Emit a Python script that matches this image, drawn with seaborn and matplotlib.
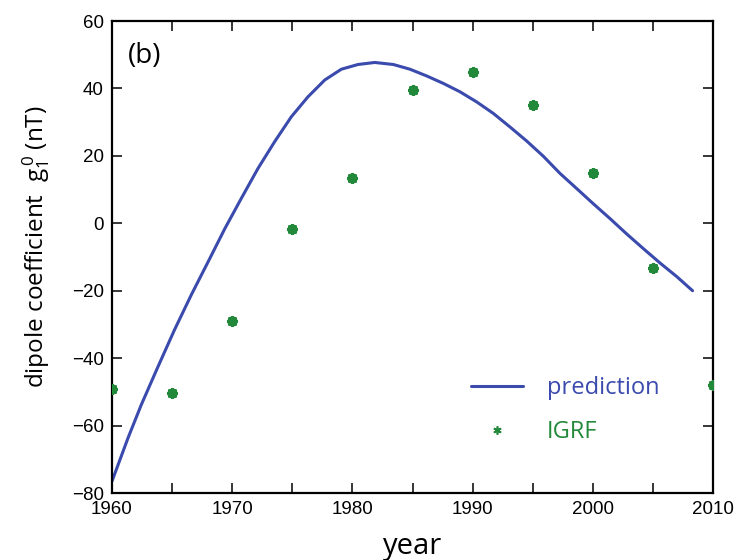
import numpy as np
import pandas as pd
import matplotlib
matplotlib.use("Agg")
import matplotlib.pyplot as plt
import seaborn as sns
from matplotlib.lines import Line2D
from matplotlib.ticker import MultipleLocator

# prediction curve
pred_year = [1960.0, 1961.33, 1962.44, 1963.83, 1965.2, 1966.6, 1968.0, 1969.4,
             1970.76, 1972.15, 1973.53, 1974.92, 1976.3, 1977.7, 1979.08, 1980.47,
             1981.86, 1983.4, 1984.79, 1986.18, 1987.56, 1988.95, 1990.34, 1991.72,
             1993.1, 1994.5, 1995.88, 1997.27, 1998.66, 2000.04, 2001.43, 2002.8,
             2004.2, 2005.6, 2006.98, 2008.3]
pred_value = [-76.5, -63.7, -53.8, -42.5, -31.6, -21.2, -11.4, -1.5,
              7.4, 16.3, 24.2, 31.6, 37.5, 42.5, 45.7, 47.1,
              47.7, 47.1, 45.7, 43.7, 41.5, 39.0, 36.0, 32.6,
              28.6, 24.4, 19.9, 14.8, 10.3, 5.8, 1.4, -3.1,
              -7.5, -11.8, -15.8, -20.0]

# IGRF values
igrf_year = [1960, 1965, 1970, 1975, 1980, 1985, 1990, 1995, 2000, 2005, 2010]
igrf_value = [-49.1, -50.2, -29.0, -1.7, 13.4, 39.6, 44.8, 35.0, 14.8, -13.3, -48.0]

x_ticks = [1960, 1970, 1980, 1990, 2000, 2010]
y_ticks = [-80, -60, -40, -20, 0, 20, 40, 60]

blue = "#3a4aad"
green = "#22893a"

sns.set_theme(style="ticks")
plt.rcParams['font.family'] = ['Liberation Sans', 'DejaVu Sans']
plt.rcParams['mathtext.fontset'] = 'custom'
plt.rcParams['mathtext.rm'] = 'Open Sans'
plt.rcParams['text.color'] = 'black'
plt.rcParams['axes.labelcolor'] = 'black'

fig = plt.figure(figsize=(7.53, 5.60), dpi=100)
ax = fig.add_axes([112/753, 1-493/560, (713-112)/753, (493-21)/560])

pred_df = pd.DataFrame({"year": pred_year, "value": pred_value})
igrf_df = pd.DataFrame({"year": igrf_year, "value": igrf_value})

sns.lineplot(data=pred_df, x="year", y="value", ax=ax, color=blue, linewidth=2.2,
             sort=False, estimator=None)
sns.scatterplot(data=igrf_df, x="year", y="value", ax=ax, color=green,
                marker=(8, 2, 0), s=26, linewidth=3.0, edgecolor=green, zorder=3)

ax.set_xlim(1960, 2010)
ax.set_ylim(-80, 60)
ax.set_xticks(x_ticks)
ax.set_yticks(y_ticks)
ax.xaxis.set_minor_locator(MultipleLocator(5))
ax.tick_params(which='both', direction='in', top=True, right=True, width=1.1,
               colors='black', labelsize=13.5)
ax.tick_params(axis='x', which='both', pad=6)
ax.tick_params(axis='y', which='both', pad=6)
ax.tick_params(which='major', length=7)
ax.tick_params(which='minor', length=7)
for s in ax.spines.values():
    s.set_linewidth(1.6)
    s.set_color('black')

ax.set_xlabel("year", fontsize=21, family=['Open Sans', 'DejaVu Sans'], labelpad=10,
              color='black')
ax.set_ylabel(r"dipole coefficient  $\mathregular{g_1^{\,0}}$ (nT)", fontsize=17.5,
              family=['Open Sans', 'DejaVu Sans'], color='black')
ax.yaxis.set_label_coords(-0.100, 0.521)

ax.text(0.026, 0.955, "(b)", transform=ax.transAxes, fontsize=20,
        family=['Open Sans', 'DejaVu Sans'], va='top', ha='left', color='black')

handles = [Line2D([], [], color=blue, linewidth=2.2),
           Line2D([], [], color=green, linestyle='none', marker=(6, 2, 0),
                  markersize=6, markeredgewidth=1.2)]
leg = ax.legend(handles, ["prediction", "IGRF"], loc='upper left',
                bbox_to_anchor=(0.578, 0.272), frameon=False,
                prop={'family': 'Open Sans', 'size': 17},
                handlelength=2.2, handletextpad=1.0, labelspacing=0.85,
                borderpad=0)
for t, c in zip(leg.get_texts(), [blue, green]):
    t.set_color(c)

fig.savefig("out.png", dpi=100)
